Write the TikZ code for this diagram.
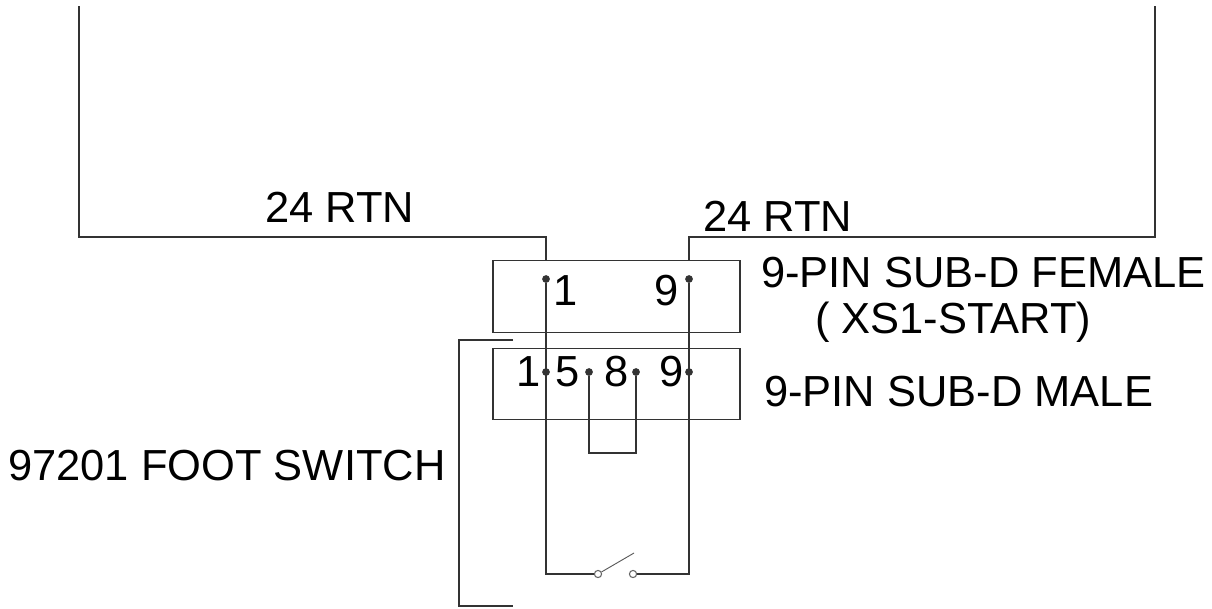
\documentclass[tikz,border=0pt]{standalone}
\usepackage{fontspec}
\setmainfont{Liberation Sans}
\tikzset{
  wire/.style={draw=black!80,line width=0.9pt},
  pin/.style={circle,fill=black!80,inner sep=0pt,minimum size=5.8pt},
  term/.style={circle,draw=black!60,fill=white,line width=0.8pt,inner sep=0pt,minimum size=5.4pt},
  box/.style={draw=black!80,line width=1pt,inner sep=0pt,minimum width=185.25pt,minimum height=53.6pt},
  lab/.style={inner sep=0pt,anchor=base west,font=\fontsize{32.6}{38}\selectfont,text=black}
}
\begin{document}
\begin{tikzpicture}[x=0.75pt,y=-0.75pt]
\useasboundingbox (0,0) rectangle (1212,608);
\fill[white] (0,0) rectangle (1212,608);
\node[box] (female) at (616.5,296.5) {};
\node[box] (male) at (616.5,384) {};
\coordinate (la) at (546,261);
\coordinate (ra) at (689,261);
\coordinate (lt) at (79,6);
\coordinate (rt) at (1155,6);
\coordinate (lever) at (634,553);
\coordinate (bt) at (513,340);
\coordinate (bb) at (513,606);
\node[pin] (f1) at (546,279) {};
\node[pin] (f9) at (689,279) {};
\node[pin] (m1) at (546,372) {};
\node[pin] (m5) at (589,372) {};
\node[pin] (m8) at (636,372) {};
\node[pin] (m9) at (689,372) {};
\node[term] (s1) at (598,574) {};
\node[term] (s2) at (633,574) {};
\draw[wire] (lt) |- (546,237) -- (la);
\draw[wire] (rt) |- (689,237) -- (ra);
\draw[wire] (f1) |- (s1);
\draw[wire] (f9) |- (s2);
\draw[wire] (m5) |- (636,453) -- (m8);
\draw[wire,line width=0.7pt,draw=black!65] (s1) -- (lever);
\draw[wire] (bt) -- (459,340) -- (459,606) -- (bb);
\node[lab] (t1) at (265,222) {24 RTN};
\node[lab] (t2) at (703,231) {24 RTN};
\node[lab] (t3) at (761,287) {9-PIN SUB-D FEMALE};
\node[lab] (t4) at (815,333) {( XS1-START)};
\node[lab] (t5) at (764,406) {9-PIN SUB-D MALE};
\node[lab] (t6) at (8,480) {97201 FOOT SWITCH};
\node[lab] (n1) at (553,305) {1};
\node[lab] (n2) at (654,305) {9};
\node[lab] (n3) at (516,386) {1};
\node[lab] (n4) at (555,386) {5};
\node[lab] (n5) at (604,386) {8};
\node[lab] (n6) at (659,386) {9};
\end{tikzpicture}
\end{document}
